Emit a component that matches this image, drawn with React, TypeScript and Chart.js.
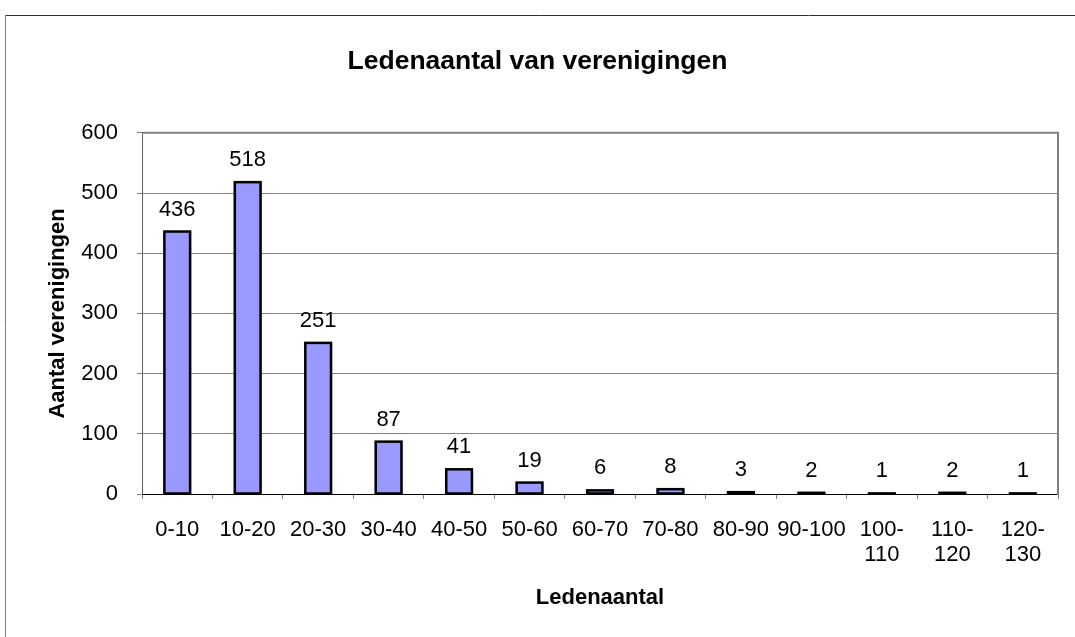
import React, { useEffect, useRef } from "react";
import { Chart, registerables } from "chart.js";

Chart.register(...registerables);

// ---- data ----
const categories: string[][] = [
  ["0-10"], ["10-20"], ["20-30"], ["30-40"], ["40-50"], ["50-60"], ["60-70"],
  ["70-80"], ["80-90"], ["90-100"], ["100-", "110"], ["110-", "120"], ["120-", "130"],
];
const counts: number[] = [436, 518, 251, 87, 41, 19, 6, 8, 3, 2, 1, 2, 1];
const yMin = 0;
const yMax = 600;
const yStep = 100;
const chartTitle = "Ledenaantal van verenigingen";
const xAxisTitle = "Ledenaantal";
const yAxisTitle = "Aantal verenigingen";

const FONT = "'Liberation Sans', Arial, Helvetica, sans-serif";

const backgroundPlugin = {
  id: "bgFrame",
  beforeDraw(chart: any) {
    const { ctx, width, height } = chart;
    ctx.save();
    ctx.fillStyle = "#ffffff";
    ctx.fillRect(0, 0, width, height);
    ctx.lineWidth = 1;
    ctx.strokeStyle = "#303030";
    ctx.beginPath();
    ctx.moveTo(5.5, 15.5);
    ctx.lineTo(width + 5, 15.5);
    ctx.stroke();
    ctx.strokeStyle = "#808080";
    ctx.beginPath();
    ctx.moveTo(5.5, 15.5);
    ctx.lineTo(5.5, height + 5);
    ctx.stroke();
    ctx.restore();
  },
};

const plotFramePlugin = {
  id: "plotFrame",
  beforeDatasetsDraw(chart: any) {
    const { ctx, chartArea } = chart;
    const { left, top, right, bottom } = chartArea;
    ctx.save();
    ctx.strokeStyle = "#808080";
    ctx.lineWidth = 2;
    ctx.beginPath();
    ctx.moveTo(left, top);
    ctx.lineTo(right, top);
    ctx.lineTo(right, bottom + 1);
    ctx.stroke();
    ctx.restore();
  },
};

const barOutlinePlugin = {
  id: "barOutline",
  afterDatasetsDraw(chart: any) {
    const { ctx } = chart;
    const meta = chart.getDatasetMeta(0);
    const data = chart.data.datasets[0].data as number[];
    ctx.save();
    ctx.strokeStyle = "#000000";
    ctx.lineWidth = 2.5;
    meta.data.forEach((el: any) => {
      const { x, y, base, width } = el.getProps(["x", "y", "base", "width"], true);
      const left = x - width / 2;
      ctx.strokeRect(left + 1.25, y, width - 2.5, base - y);
    });
    ctx.fillStyle = "#000000";
    ctx.font = `22px ${FONT}`;
    ctx.textAlign = "center";
    ctx.textBaseline = "alphabetic";
    meta.data.forEach((el: any, i: number) => {
      const { x, y } = el.getProps(["x", "y"], true);
      ctx.fillText(String(data[i]), x, y - 16);
    });
    ctx.restore();
  },
};

export default function App() {
  const canvasRef = useRef<HTMLCanvasElement | null>(null);

  useEffect(() => {
    if (!canvasRef.current) return;
    const chart = new Chart(canvasRef.current, {
      type: "bar",
      data: {
        labels: categories as any,
        datasets: [
          {
            data: counts,
            backgroundColor: "#9999FF",
            borderWidth: 0,
            barPercentage: 0.4,
            categoryPercentage: 1,
          },
        ],
      },
      options: {
        animation: false,
        responsive: false,
        devicePixelRatio: 1,
        layout: { padding: { left: 17, right: 17, top: 0, bottom: 0 } },
        plugins: {
          legend: { display: false },
          tooltip: { enabled: false },
          title: {
            display: true,
            text: chartTitle,
            color: "#000000",
            font: { family: FONT, size: 26.5, weight: "bold", lineHeight: 1.2 },
            padding: { top: 46, bottom: 55 },
          },
        },
        scales: {
          x: {
            grid: {
              display: true,
              drawOnChartArea: false,
              offset: true,
              tickLength: 5,
              color: "#808080",
            },
            border: { display: true, color: "#000000", width: 1 },
            ticks: {
              color: "#000000",
              font: { family: FONT, size: 22, lineHeight: 1.136 },
              padding: 18,
              maxRotation: 0,
              minRotation: 0,
              autoSkip: false,
            },
            title: {
              display: true,
              text: xAxisTitle,
              color: "#000000",
              font: { family: FONT, size: 22, weight: "bold", lineHeight: 1.2 },
              padding: { top: 0, bottom: 26 },
            },
            afterFit: (s: any) => {
              s.height = 143;
            },
          },
          y: {
            min: yMin,
            max: yMax,
            ticks: {
              stepSize: yStep,
              color: "#000000",
              font: { family: FONT, size: 22 },
              padding: 19,
            },
            grid: { color: "#808080", tickLength: 5, lineWidth: 1 },
            border: { display: true, color: "#606060", width: 1 },
            title: {
              display: true,
              text: yAxisTitle,
              color: "#000000",
              font: { family: FONT, size: 22, weight: "bold", lineHeight: 1.2 },
              padding: { top: 28, bottom: 0 },
            },
            afterFit: (s: any) => {
              s.width = 125;
            },
          },
        },
      } as any,
      plugins: [backgroundPlugin, plotFramePlugin, barOutlinePlugin],
    });
    return () => chart.destroy();
  }, []);

  return (
    <div style={{ position: "absolute", left: 0, top: 0, width: 1075, height: 637 }}>
      <canvas ref={canvasRef} width={1075} height={637} />
    </div>
  );
}
